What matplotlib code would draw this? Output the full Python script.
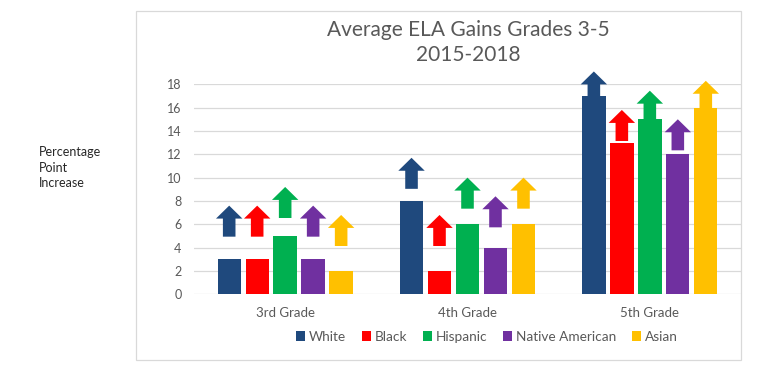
import matplotlib
matplotlib.use("Agg")
import matplotlib.pyplot as plt
from matplotlib.patches import Polygon, Rectangle, Patch
import numpy as np

plt.rcParams['font.family'] = ['Lato', 'DejaVu Sans']

categories = ['3rd Grade', '4th Grade', '5th Grade']
series_names = ['White', 'Black', 'Hispanic', 'Native American', 'Asian']
white = [3, 8, 17]
black = [3, 2, 13]
hispanic = [5, 6, 15]
native_american = [3, 4, 12]
asian = [2, 6, 16]
# tip heights of the decorative arrows drawn above each bar
white_arrow = [7.6, 11.7, 19.1]
black_arrow = [7.6, 6.8, 15.8]
hispanic_arrow = [9.2, 10.0, 17.45]
native_american_arrow = [7.6, 8.4, 15.0]
asian_arrow = [6.8, 10.0, 18.3]
y_ticks = [0, 2, 4, 6, 8, 10, 12, 14, 16, 18]

values = [white, black, hispanic, native_american, asian]
arrows = [white_arrow, black_arrow, hispanic_arrow, native_american_arrow, asian_arrow]
colors = ['#1F497D', '#FF0000', '#00B050', '#7030A0', '#FFC000']

W, H = 764, 376
fig = plt.figure(figsize=(W / 100, H / 100), dpi=100)

# chart frame
fig.patches.append(Rectangle((136.3 / W, 1 - 360.3 / H), (741 - 136.3) / W, (360.3 - 11.3) / H,
                             transform=fig.transFigure, fill=False, edgecolor='#D9D9D9',
                             linewidth=0.9, zorder=0))

ax = fig.add_axes([194 / W, 1 - 294.3 / H, (741 - 194) / W, (294.3 - 84.3) / H])
x = np.arange(len(categories))
pitch = 0.1535
bar_w = 0.128
head_w = 0.145
shaft_w = 0.069
head_h = 1.11
arrow_len = 2.66

for i, (name, vals, tips, c) in enumerate(zip(series_names, values, arrows, colors)):
    xs = x + (i - 2) * pitch
    ax.bar(xs, vals, width=bar_w, color=c, zorder=3, label=name)
    for xc, tip in zip(xs, tips):
        pts = [(xc - shaft_w / 2, tip - arrow_len), (xc + shaft_w / 2, tip - arrow_len),
               (xc + shaft_w / 2, tip - head_h), (xc + head_w / 2, tip - head_h),
               (xc, tip), (xc - head_w / 2, tip - head_h), (xc - shaft_w / 2, tip - head_h)]
        ax.add_patch(Polygon(pts, closed=True, facecolor=c, edgecolor='none',
                             zorder=2, clip_on=False))

ax.set_xlim(-0.5, 2.5)
ax.set_ylim(0, 18)
ax.set_yticks(y_ticks)
ax.set_xticks(x)
ax.set_xticklabels(categories)
ax.grid(axis='y', color='#D9D9D9', linewidth=0.9, zorder=0)
ax.set_axisbelow(True)
for s in ax.spines.values():
    s.set_visible(False)
ax.tick_params(axis='y', length=0, pad=9, labelsize=9, labelcolor='#595959')
ax.tick_params(axis='x', length=0, pad=9, labelsize=9.5, labelcolor='#595959')

fig.text(468.3 / W, 1 - 42.8 / H, 'Average ELA Gains Grades 3-5\n2015-2018', ha='center', va='center',
         fontsize=15, color='#595959', linespacing=1.3)

fig.text(39 / W, 1 - 167.5 / H, 'Percentage\nPoint\nIncrease', ha='left', va='center',
         fontsize=9, color='#262626', linespacing=1.35)

handles = [Patch(facecolor=c, edgecolor='none') for c in colors]
fig.legend(handles, series_names, loc='center', bbox_to_anchor=(486.7 / W, 1 - 336.7 / H),
           ncol=5, frameon=False, fontsize=9.8, handlelength=0.7, handleheight=0.7,
           handletextpad=0.25, columnspacing=1.15, labelcolor='#595959', borderaxespad=0,
           borderpad=0)

fig.savefig('out.png', dpi=100)
